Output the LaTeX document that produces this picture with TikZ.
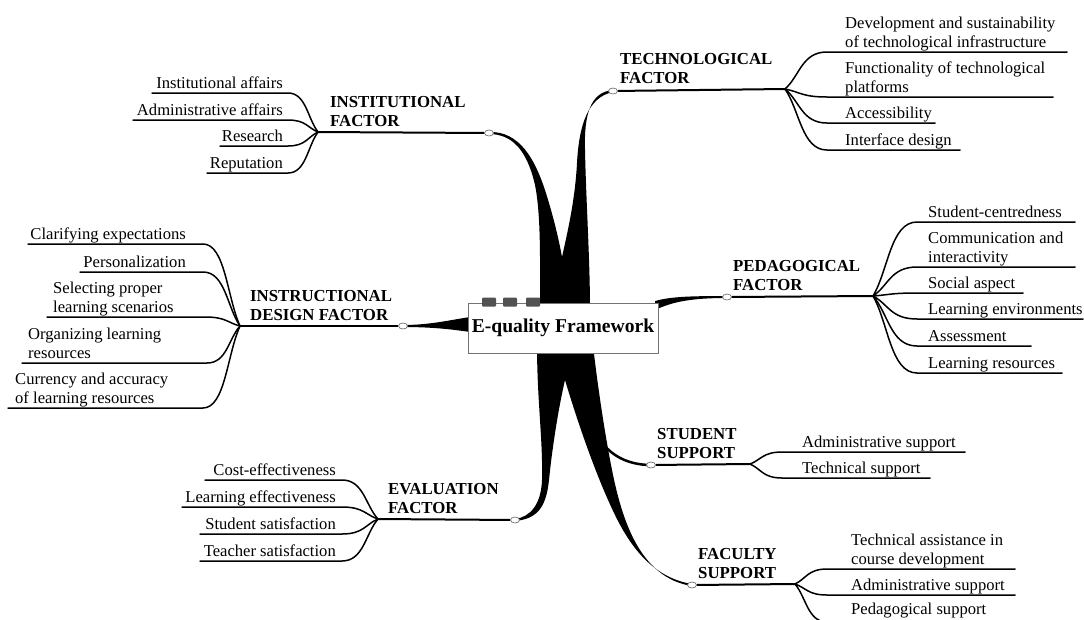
\documentclass[tikz,border=0pt]{standalone}
\usepackage{fontspec}
\setmainfont{Liberation Serif}
\usetikzlibrary{calc,shapes.geometric}

% curve from a factor hub to the inner end of an item's underline, then the underline
\newcommand{\twigpath}[3]{\draw[twig] (#1) .. controls ($(#1)!0.35!(#2)$) and ($(#2)!0.6!(#1|-#2)$) .. (#2) -- (#3);}

\begin{document}
\begin{tikzpicture}[x=1pt,y=-1pt,
  item/.style={font=\fontsize{16.6}{19}\selectfont, inner sep=0pt, text depth=3pt, align=left},
  factor/.style={font=\fontsize{16.8}{19}\selectfont\bfseries, inner sep=0pt, text depth=3pt, align=left},
  twig/.style={line width=1.5pt, line cap=round},
  bough/.style={line width=2pt},
  knot/.style={ellipse, draw=black!55, fill=white, line width=0.7pt, minimum width=9pt, minimum height=6pt, inner sep=0pt},
  core/.style={draw=black!55, fill=white, line width=0.8pt, minimum width=190pt, minimum height=50pt, inner sep=0pt,
               font=\fontsize{19.6}{22}\selectfont\bfseries},
  tab/.style={fill=black!68, minimum width=14pt, minimum height=9pt, inner sep=0pt, rounded corners=1pt}]

\fill[white] (0,0) rectangle (1084,619);
\clip (0,0) rectangle (1084,619);

% ---- hubs of the seven factors
\coordinate (hN) at (318,132);
\coordinate (hT) at (785,89);
\coordinate (hD) at (240,326);
\coordinate (hP) at (873,296);
\coordinate (hE) at (378,519);
\coordinate (hS) at (750,464);
\coordinate (hF) at (795,584);

% ---- tapered trunks from the central topic
\fill (489,132) .. controls (520,131) and (535,160) .. (545,190)
      .. controls (552,212) and (558,235) .. (562,257)
      .. controls (568,230) and (575,200) .. (577,163)
      .. controls (579,125) and (588,97) .. (613,92)
      -- (613,90) .. controls (590,92) and (584,115) .. (585,150)
      .. controls (586,200) and (590,260) .. (590,310)
      -- (540,310) .. controls (540,260) and (541,215) .. (535,185)
      .. controls (527,150) and (512,134) .. (489,134) -- cycle;

\fill (537,345) -- (593,345)
      .. controls (598,390) and (606,440) .. (612,470)
      .. controls (622,520) and (640,578) .. (692,586)
      -- (692,584) .. controls (655,578) and (632,550) .. (615,515)
      .. controls (598,480) and (580,430) .. (565,380)
      .. controls (558,410) and (552,450) .. (549,480)
      .. controls (546,510) and (535,519) .. (515,521)
      -- (515,519) .. controls (530,517) and (541,505) .. (542,480)
      .. controls (543,440) and (537,400) .. (537,345) -- cycle;

\draw[line width=2.5pt] (604,445) .. controls (614,457) and (630,465) .. (651,465);

\fill (403,325) .. controls (430,325) and (450,320) .. (470,317)
      -- (470,332) .. controls (450,329) and (430,327) .. (403,327) -- cycle;

\fill (655,301) .. controls (670,297) and (685,296) .. (727,296)
      -- (727,298) .. controls (690,298) and (672,302) .. (655,310) -- cycle;

% ---- knots
\node[knot] (kN) at (489,133) {};
\node[knot] (kT) at (613,91) {};
\node[knot] (kD) at (403,326) {};
\node[knot] (kP) at (727,297) {};
\node[knot] (kE) at (515,520) {};
\node[knot] (kS) at (651,465) {};
\node[knot] (kF) at (692,585) {};

\draw[bough] (hN) -- (kN);
\draw[bough] (kT) -- (hT);
\draw[bough] (hD) -- (kD);
\draw[bough] (kP) -- (hP);
\draw[bough] (hE) -- (kE);
\draw[bough] (kS) -- (hS);
\draw[bough] (kF) -- (hF);

% ---- central topic
\node[core] (core) at (563,328) {E-quality Framework};
\node[tab] (q1) at (489,302) {};
\node[tab] (q2) at (510,302) {};
\node[tab] (q3) at (533,302) {};

% ---- factor labels
\node[factor, anchor=south west] (lN) at (330,130) {INSTITUTIONAL\\FACTOR};
\node[factor, anchor=south west] (lT) at (620,87) {TECHNOLOGICAL\\FACTOR};
\node[factor, anchor=south west] (lD) at (250,324) {INSTRUCTIONAL\\DESIGN FACTOR};
\node[factor, anchor=south west] (lP) at (733,294) {PEDAGOGICAL\\FACTOR};
\node[factor, anchor=south west] (lE) at (388,517) {EVALUATION\\FACTOR};
\node[factor, anchor=south west] (lS) at (657,462) {STUDENT\\SUPPORT};
\node[factor, anchor=south west] (lF) at (698,582) {FACULTY\\SUPPORT};

% ---- institutional factor items
\coordinate (N1e) at (288,93);  \coordinate (N1f) at (152,93);
\coordinate (N2e) at (288,120); \coordinate (N2f) at (133,120);
\coordinate (N3e) at (288,146); \coordinate (N3f) at (220,146);
\coordinate (N4e) at (288,173); \coordinate (N4f) at (207,173);
\twigpath{hN}{N1e}{N1f} \twigpath{hN}{N2e}{N2f} \twigpath{hN}{N3e}{N3f} \twigpath{hN}{N4e}{N4f}
\node[item, anchor=south east] (iN1) at (283,92) {Institutional affairs};
\node[item, anchor=south east] (iN2) at (283,119) {Administrative affairs};
\node[item, anchor=south east] (iN3) at (283,145) {Research};
\node[item, anchor=south east] (iN4) at (283,172) {Reputation};

% ---- technological factor items
\coordinate (T1e) at (827,52);  \coordinate (T1f) at (1067,52);
\coordinate (T2e) at (827,97);  \coordinate (T2f) at (1053,97);
\coordinate (T3e) at (827,123); \coordinate (T3f) at (935,123);
\coordinate (T4e) at (827,150); \coordinate (T4f) at (960,150);
\twigpath{hT}{T1e}{T1f} \twigpath{hT}{T2e}{T2f} \twigpath{hT}{T3e}{T3f} \twigpath{hT}{T4e}{T4f}
\node[item, anchor=south west] (iT1) at (845,51) {Development and sustainability\\of technological infrastructure};
\node[item, anchor=south west] (iT2) at (845,96) {Functionality of technological\\platforms};
\node[item, anchor=south west] (iT3) at (845,122) {Accessibility};
\node[item, anchor=south west] (iT4) at (845,149) {Interface design};

% ---- instructional design factor items
\coordinate (D1e) at (203,244); \coordinate (D1f) at (28,244);
\coordinate (D2e) at (203,272); \coordinate (D2f) at (80,272);
\coordinate (D3e) at (205,317); \coordinate (D3f) at (47,317);
\coordinate (D4e) at (207,363); \coordinate (D4f) at (22,363);
\coordinate (D5e) at (203,408); \coordinate (D5f) at (8,408);
\twigpath{hD}{D1e}{D1f} \twigpath{hD}{D2e}{D2f} \twigpath{hD}{D3e}{D3f}
\twigpath{hD}{D4e}{D4f} \twigpath{hD}{D5e}{D5f}
\node[item, anchor=south east] (iD1) at (186,243) {Clarifying expectations};
\node[item, anchor=south east] (iD2) at (186,271) {Personalization};
\node[item, anchor=south west] (iD3) at (53,316) {Selecting proper\\learning scenarios};
\node[item, anchor=south west] (iD4) at (28,362) {Organizing learning\\resources};
\node[item, anchor=south west] (iD5) at (15,407) {Currency and accuracy\\of learning resources};

% ---- pedagogical factor items
\coordinate (P1e) at (917,222); \coordinate (P1f) at (1075,222);
\coordinate (P2e) at (917,267); \coordinate (P2f) at (1075,267);
\coordinate (P3e) at (917,293); \coordinate (P3f) at (1023,293);
\coordinate (P4e) at (917,319); \coordinate (P4f) at (1083,319);
\coordinate (P5e) at (917,346); \coordinate (P5f) at (1031,346);
\coordinate (P6e) at (917,373); \coordinate (P6f) at (1062,373);
\twigpath{hP}{P1e}{P1f} \twigpath{hP}{P2e}{P2f} \twigpath{hP}{P3e}{P3f}
\twigpath{hP}{P4e}{P4f} \twigpath{hP}{P5e}{P5f} \twigpath{hP}{P6e}{P6f}
\node[item, anchor=south west] (iP1) at (928,221) {Student-centredness};
\node[item, anchor=south west] (iP2) at (928,266) {Communication and\\interactivity};
\node[item, anchor=south west] (iP3) at (928,292) {Social aspect};
\node[item, anchor=south west] (iP4) at (928,318) {Learning environments};
\node[item, anchor=south west] (iP5) at (928,345) {Assessment};
\node[item, anchor=south west] (iP6) at (928,372) {Learning resources};

% ---- evaluation factor items
\coordinate (E1e) at (342,480); \coordinate (E1f) at (205,480);
\coordinate (E2e) at (342,507); \coordinate (E2f) at (182,507);
\coordinate (E3e) at (342,534); \coordinate (E3f) at (200,534);
\coordinate (E4e) at (342,561); \coordinate (E4f) at (200,561);
\twigpath{hE}{E1e}{E1f} \twigpath{hE}{E2e}{E2f} \twigpath{hE}{E3e}{E3f} \twigpath{hE}{E4e}{E4f}
\node[item, anchor=south east] (iE1) at (336,479) {Cost-effectiveness};
\node[item, anchor=south east] (iE2) at (336,506) {Learning effectiveness};
\node[item, anchor=south east] (iE3) at (336,533) {Student satisfaction};
\node[item, anchor=south east] (iE4) at (336,560) {Teacher satisfaction};

% ---- student support items
\coordinate (S1e) at (782,452); \coordinate (S1f) at (965,452);
\coordinate (S2e) at (782,478); \coordinate (S2f) at (930,478);
\twigpath{hS}{S1e}{S1f} \twigpath{hS}{S2e}{S2f}
\node[item, anchor=south west] (iS1) at (802,451) {Administrative support};
\node[item, anchor=south west] (iS2) at (802,477) {Technical support};

% ---- faculty support items
\coordinate (F1e) at (827,569); \coordinate (F1f) at (1015,569);
\coordinate (F2e) at (827,595); \coordinate (F2f) at (1015,595);
\coordinate (F3e) at (827,622); \coordinate (F3f) at (1000,622);
\twigpath{hF}{F1e}{F1f} \twigpath{hF}{F2e}{F2f} \twigpath{hF}{F3e}{F3f}
\node[item, anchor=south west] (iF1) at (851,568) {Technical assistance in\\course development};
\node[item, anchor=south west] (iF2) at (851,594) {Administrative support};
\node[item, anchor=south west] (iF3) at (851,618) {Pedagogical support};

\end{tikzpicture}
\end{document}
